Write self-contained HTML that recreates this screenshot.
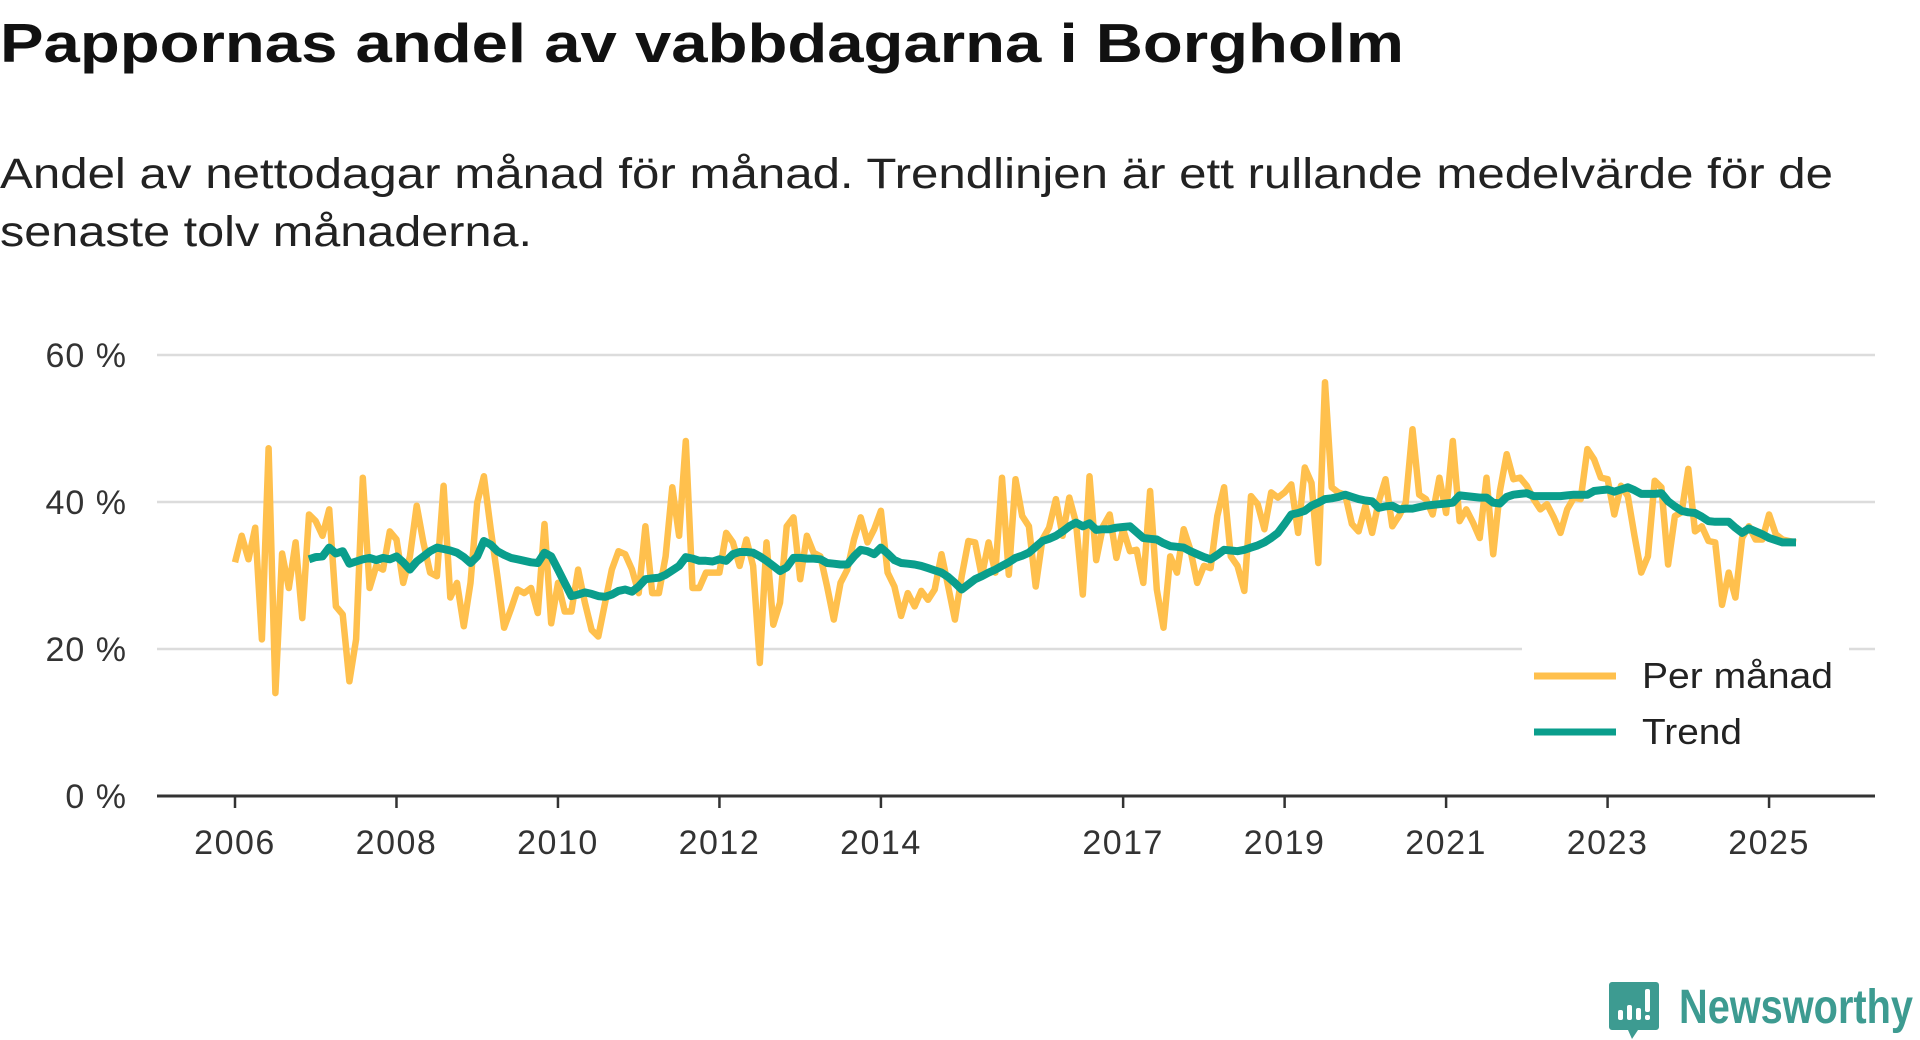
<!DOCTYPE html>
<html><head><meta charset="utf-8"><style>
html,body{margin:0;padding:0;background:#fff;}
svg{display:block;font-family:"Liberation Sans",sans-serif;}
</style></head><body>
<svg id="chart" width="1920" height="1040" viewBox="0 0 1920 1040">
<text x="0" y="62" font-size="55" font-weight="bold" fill="#111" textLength="1404" lengthAdjust="spacingAndGlyphs">Pappornas andel av vabbdagarna i Borgholm</text>
<text x="0" y="188" font-size="43" fill="#222" textLength="1833" lengthAdjust="spacingAndGlyphs">Andel av nettodagar månad för månad. Trendlinjen är ett rullande medelvärde för de</text>
<text x="0" y="246" font-size="43" fill="#222" textLength="532" lengthAdjust="spacingAndGlyphs">senaste tolv månaderna.</text>
<g id="grid"></g>
<g id="xaxis"></g>
<g id="yaxis"></g>
<g id="series"></g>
<g>
<rect x="1522" y="646" width="327" height="113" fill="#fff"/>
<line x1="1534" y1="676" x2="1616" y2="676" stroke="#ffc04d" stroke-width="7"/>
<text x="1642" y="688" font-size="36" fill="#222" textLength="191" lengthAdjust="spacingAndGlyphs">Per månad</text>
<line x1="1534" y1="732" x2="1616" y2="732" stroke="#0a9e8c" stroke-width="7"/>
<text x="1642" y="744" font-size="36" fill="#222" textLength="100" lengthAdjust="spacingAndGlyphs">Trend</text>
</g>
<g>
<path d="M1612 982 h44 a3 3 0 0 1 3 3 v42 a3 3 0 0 1 -3 3 h-18 l-6 9 l-4 -9 h-16 a3 3 0 0 1 -3 -3 v-42 a3 3 0 0 1 3 -3z" fill="#3d9b91"/>
<rect x="1618" y="1010" width="5" height="10" rx="2" fill="#fff"/>
<rect x="1627" y="1005" width="5" height="15" rx="2" fill="#fff"/>
<rect x="1636" y="1008" width="5" height="12" rx="2" fill="#fff"/>
<rect x="1645" y="989" width="5" height="23" rx="2" fill="#fff"/>
<rect x="1645" y="1015" width="5" height="5" rx="2" fill="#fff"/>
<text x="1679" y="1023" font-size="48" font-weight="bold" fill="#3d9b91" textLength="234" lengthAdjust="spacingAndGlyphs">Newsworthy</text>
</g>
</svg>
<script>
const startYear = 2006;
const monthly = [31.8,35.4,32.2,36.5,21.3,47.3,14,33,28.3,34.5,24.2,38.3,37.4,35.4,39,25.8,24.7,15.6,21.3,43.3,28.3,31.3,30.8,36,34.9,29,32.6,39.5,34.5,30.4,29.9,42.2,27,29,23.1,29,39.9,43.5,36.3,29.9,22.9,25.4,28.1,27.6,28.3,24.9,37,23.5,29,25.1,25.1,30.8,26.3,22.6,21.7,26.3,30.8,33.3,32.9,30.8,27.6,36.7,27.6,27.6,32.6,42,35.4,48.3,28.3,28.3,30.4,30.4,30.4,35.8,34.5,31.3,34.9,31.3,18.1,34.5,23.3,26.3,36.7,37.9,29.5,35.4,33.1,32.6,28.5,24,29,30.8,34.9,37.9,34.5,36.3,38.8,30.4,28.5,24.5,27.6,25.8,27.9,26.7,28.1,32.9,28.5,24,29.9,34.7,34.5,29.9,34.5,30.4,43.3,30.1,43.1,38.1,36.7,28.5,34.9,36.5,40.4,35.4,40.6,37.2,27.4,43.5,32.1,36.7,38.3,32.4,36.3,33.3,33.5,29,41.5,28.1,22.9,32.6,30.4,36.3,33.5,29,31.3,31,38.1,42,32.6,31.3,27.9,40.8,39.7,36.3,41.3,40.6,41.3,42.4,35.8,44.7,42.6,31.7,56.3,42,41.3,41,37,36,39.5,35.8,40.1,43.1,36.7,38.1,39.9,49.9,41,40.4,38.3,43.3,38.5,48.3,37.4,39,37.2,35.1,43.3,32.9,41.5,46.5,43.1,43.3,42.2,40.4,39,39.7,37.9,35.8,39,40.6,40.4,47.2,45.8,43.3,43.1,38.3,42.2,40.8,35.4,30.4,32.6,42.9,42,31.5,38.1,38.6,44.5,36,36.7,34.7,34.5,26,30.4,27,35.1,36.7,34.9,34.9,38.3,35.6,34.9,34.7,34.5];
const trend = [null,null,null,null,null,null,null,null,null,null,null,32.2,32.5,32.6,33.8,33.0,33.3,31.6,31.9,32.2,32.4,32.1,32.4,32.2,32.6,31.8,30.8,31.9,32.6,33.3,33.8,33.6,33.4,33.1,32.5,31.7,32.6,34.7,34.2,33.3,32.8,32.4,32.2,32.0,31.8,31.7,33.1,32.6,30.8,29.0,27.2,27.4,27.7,27.5,27.2,27.1,27.4,27.9,28.1,27.8,28.5,29.5,29.6,29.7,30.1,30.7,31.3,32.5,32.3,32.0,32.0,31.9,32.2,32.0,32.9,33.2,33.2,33.1,32.6,32.0,31.3,30.6,31.1,32.4,32.4,32.3,32.3,32.2,31.7,31.6,31.5,31.5,32.6,33.5,33.3,32.9,33.8,33.0,32.1,31.7,31.6,31.5,31.3,31.0,30.7,30.4,29.8,29.0,28.1,28.8,29.5,29.9,30.4,30.8,31.3,31.8,32.4,32.7,33.1,33.9,34.7,35.0,35.4,36.0,36.7,37.2,36.7,37.1,36.2,36.3,36.3,36.5,36.6,36.7,35.9,35.1,35.0,34.9,34.4,34.0,33.9,33.8,33.3,32.9,32.5,32.2,32.8,33.5,33.4,33.3,33.5,33.8,34.1,34.5,35.1,35.8,37.0,38.3,38.5,38.8,39.5,39.9,40.4,40.5,40.7,41.0,40.7,40.4,40.2,40.1,39.2,39.4,39.5,39.0,39.1,39.1,39.3,39.5,39.6,39.7,39.8,39.9,40.9,40.8,40.7,40.6,40.6,39.9,39.8,40.7,41.0,41.1,41.2,40.8,40.8,40.8,40.8,40.8,40.9,41.0,41.0,41.0,41.5,41.6,41.7,41.4,41.7,42.0,41.6,41.1,41.1,41.1,41.2,40.1,39.4,38.8,38.6,38.5,38.0,37.4,37.3,37.3,37.3,36.5,35.8,36.4,36.0,35.6,35.1,34.8,34.5,34.5,34.5];
const yTicks = [0,20,40,60];
const yTickLabels = ["0 %","20 %","40 %","60 %"];
const xTickYears = [2006,2008,2010,2012,2014,2017,2019,2021,2023,2025];

const NS = "http://www.w3.org/2000/svg";
const X0 = 235, PX_PER_YEAR = 80.74;
const Y0 = 796, PX_PER_UNIT = 7.35;
function xScale(monthIndex){ return X0 + monthIndex * PX_PER_YEAR / 12; }
function xYear(year){ return X0 + (year - startYear) * PX_PER_YEAR; }
function yScale(v){ return Y0 - v * PX_PER_UNIT; }
function mk(tag, attrs, parent){ const e=document.createElementNS(NS,tag); for(const k in attrs) e.setAttribute(k,attrs[k]); parent.appendChild(e); return e; }

const grid = document.getElementById('grid');
const yaxis = document.getElementById('yaxis');
yTicks.forEach((t,i)=>{
  if(t>0){
    const g = mk('line',{x1:157,x2:1875,y1:yScale(t),y2:yScale(t),stroke:'#dcdcdc','stroke-width':2.5},grid);
    
    
  }
  const tx = mk('text',{x:127,y:yScale(t)+12,'text-anchor':'end','font-size':34,'letter-spacing':1,fill:'#333'},yaxis);
  tx.textContent = yTickLabels[i];
  
  
});
const xaxis = document.getElementById('xaxis');
const axl = mk('line',{x1:157,x2:1875,y1:Y0,y2:Y0,stroke:'#333','stroke-width':3},xaxis);


xTickYears.forEach(yr=>{
  const x = xYear(yr);
  const tk = mk('line',{x1:x,x2:x,y1:Y0,y2:Y0+12,stroke:'#333','stroke-width':2.5},xaxis);
  
  
  const tx = mk('text',{x:x,y:854,'text-anchor':'middle','font-size':34,'letter-spacing':1.5,fill:'#333'},xaxis);
  tx.textContent = yr;
  
  
});

const series = document.getElementById('series');
function pathFor(arr){
  let d='', pen=false;
  arr.forEach((v,i)=>{
    if(v==null){pen=false;return;}
    d += (pen?'L':'M') + xScale(i).toFixed(1) + ' ' + yScale(v).toFixed(1) + ' ';
    pen=true;
  });
  return d;
}
const pm = mk('path',{d:pathFor(monthly),fill:'none',stroke:'#ffc04d','stroke-width':6.5,'stroke-linejoin':'round'},series);


const pt = mk('path',{d:pathFor(trend),fill:'none',stroke:'#0a9e8c','stroke-width':8,'stroke-linejoin':'round'},series);


</script>
</body></html>
